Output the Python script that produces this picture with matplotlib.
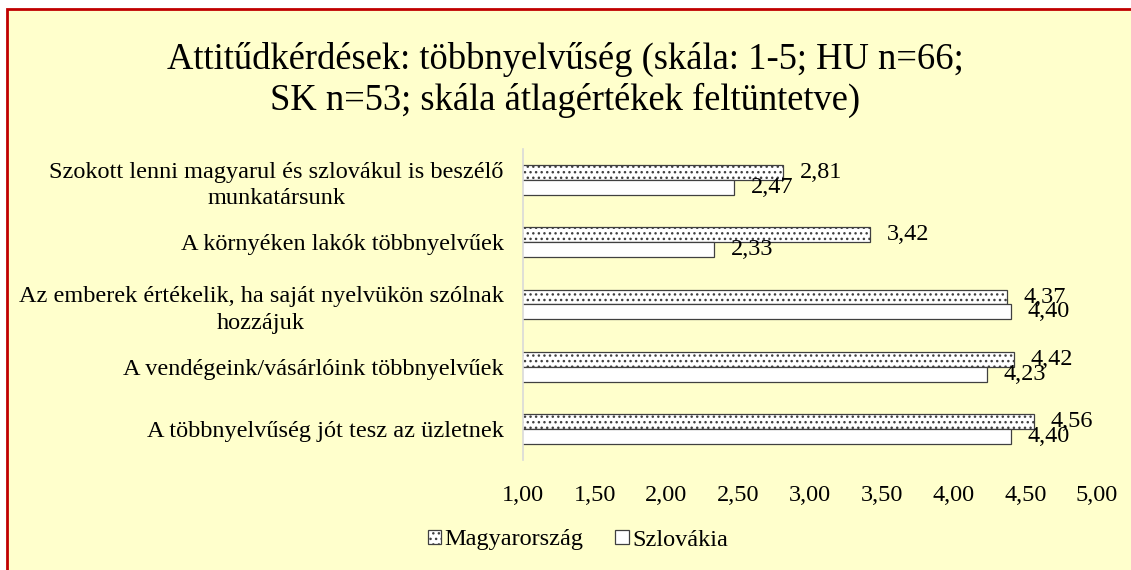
import matplotlib.pyplot as plt
import matplotlib.patches as mpatches
import numpy as np

plt.rcParams['font.family'] = ['Liberation Serif', 'DejaVu Serif']
plt.rcParams['hatch.linewidth'] = 1.0

# Data
categories = [
    "Szokott lenni magyarul és szlovákul is beszélő\nmunkatársunk",
    "A környéken lakók többnyelvűek",
    "Az emberek értékelik, ha saját nyelvükön szólnak\nhozzájuk",
    "A vendégeink/vásárlóink többnyelvűek",
    "A többnyelvűség jót tesz az üzletnek",
]
hu_values = [2.81, 3.42, 4.37, 4.42, 4.56]
sk_values = [2.47, 2.33, 4.40, 4.23, 4.40]
series_names = ["Magyarország", "Szlovákia"]
x_ticks = [1.0, 1.5, 2.0, 2.5, 3.0, 3.5, 4.0, 4.5, 5.0]

fs = 17.5

fig = plt.figure(figsize=(11.31, 5.70), dpi=100, facecolor='white')

# background panel with red border
bg = mpatches.Rectangle((7 / 1131, -0.05), 1.1, 1 - 9 / 570 + 0.05,
                        transform=fig.transFigure, facecolor='#FFFFCC',
                        edgecolor='#C00000', linewidth=2, zorder=-10)
fig.patches.append(bg)

ax = fig.add_axes([523 / 1131, 1 - 460 / 570, (1097 - 523) / 1131, 311 / 570])
ax.set_facecolor('none')
ax.set_zorder(5)

y = np.arange(len(categories))
h = 0.24
edge = '#404040'
ax.barh(y - h / 2, hu_values, height=h, left=0, color='white', hatch='...',
        edgecolor=edge, linewidth=0.9, label=series_names[0])
ax.barh(y + h / 2, sk_values, height=h, left=0, color='white',
        edgecolor=edge, linewidth=0.9, label=series_names[1])

for yi, v in zip(y, hu_values):
    ax.annotate(f"{v:.2f}".replace('.', ','), (v, yi - h / 2), xytext=(12, 0),
                textcoords='offset points', va='center', ha='left', fontsize=fs)
for yi, v in zip(y, sk_values):
    ax.annotate(f"{v:.2f}".replace('.', ','), (v, yi + h / 2), xytext=(12, 0),
                textcoords='offset points', va='center', ha='left', fontsize=fs)

ax.set_xlim(1, 5)
ax.set_ylim(len(categories) - 0.5, -0.5)
ax.set_xticks(x_ticks)
ax.set_xticklabels([f"{t:.2f}".replace('.', ',') for t in x_ticks], fontsize=fs)
ax.set_yticks(y)
ax.set_yticklabels(categories, fontsize=fs, linespacing=1.35)
for t in ax.get_yticklabels():
    t.set_multialignment('center')
ax.tick_params(axis='x', length=0, pad=18)
ax.tick_params(axis='y', length=0, pad=14)

for s in ['top', 'right', 'bottom']:
    ax.spines[s].set_visible(False)
ax.spines['left'].set_color('#D9D9D9')
ax.spines['left'].set_linewidth(1.2)

fig.text(0.5, 1 - 80 / 570,
         "Attitűdkérdések: többnyelvűség (skála: 1-5; HU n=66;\nSK n=53; skála átlagértékek feltüntetve)",
         ha='center', va='center', fontsize=26.3, linespacing=1.2)

fig.legend(loc='center', bbox_to_anchor=(578 / 1131, 1 - 540 / 570), ncol=2,
           frameon=False, fontsize=fs, handlelength=0.55, handleheight=0.55,
           handletextpad=0.15, columnspacing=1.3)

fig.savefig('out.png', dpi=100, facecolor=fig.get_facecolor())
